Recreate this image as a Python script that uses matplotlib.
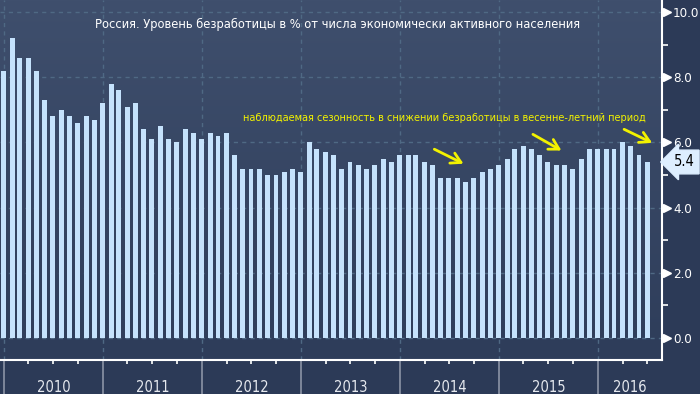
"""Russia unemployment rate, monthly bars (Bloomberg style)"""

import numpy as np
import pandas as pd
import matplotlib
matplotlib.use('Agg')
import matplotlib.pyplot as plt
import matplotlib.dates as mdates
from matplotlib.colors import LinearSegmentedColormap

# monthly unemployment, % (Dec 2009 .. Jun 2016)
months = pd.date_range('2009-12-31', periods=79, freq='ME')
unemployment = [
    8.2, 9.2, 8.6, 8.6, 8.2, 7.3, 6.8, 7.0, 6.8, 6.6, 6.8, 6.7,
    7.2, 7.8, 7.6, 7.1, 7.2, 6.4, 6.1, 6.5, 6.1, 6.0, 6.4, 6.3,
    6.1, 6.3, 6.2, 6.3, 5.6, 5.2, 5.2, 5.2, 5.0, 5.0, 5.1, 5.2,
    5.1, 6.0, 5.8, 5.7, 5.6, 5.2, 5.4, 5.3, 5.2, 5.3, 5.5, 5.4,
    5.6, 5.6, 5.6, 5.4, 5.3, 4.9, 4.9, 4.9, 4.8, 4.9, 5.1, 5.2,
    5.3, 5.5, 5.8, 5.9, 5.8, 5.6, 5.4, 5.3, 5.3, 5.2, 5.5, 5.8,
    5.8, 5.8, 5.8, 6.0, 5.9, 5.6, 5.4,
]
years = ['2010', '2011', '2012', '2013', '2014', '2015', '2016']
y_ticks = [0, 2, 4, 6, 8, 10]

title = 'Россия. Уровень безработицы в % от числа экономически активного населения'
note = 'наблюдаемая сезонность в снижении безработицы в весенне-летний период'
# arrows pointing at the seasonal dips: (tail date, tail y, head date, head y)
arrows = [
    ('2014-04-28', 5.83, '2014-09-01', 5.31),
    ('2015-04-27', 6.29, '2015-08-28', 5.71),
    ('2016-03-28', 6.44, '2016-07-28', 5.95),
]

BG = '#2c3a57'
GRID = '#4f6984'
BAR = '#c5e2fc'
YELLOW = '#f2f200'
LABEL_FONT = dict(family='DejaVu Sans', stretch='condensed')

fig = plt.figure(figsize=(7, 3.94), dpi=100, facecolor=BG)
ax = fig.add_axes([0, 34 / 394, 662 / 700, 360 / 394])
ax.set_facecolor('#34435f')

# background gradient inside the plot area
cmap = LinearSegmentedColormap.from_list('bg', ['#3f4f6d', '#2e3d5a'])
ax.imshow(np.linspace(0, 1, 256).reshape(-1, 1), cmap=cmap, aspect='auto',
          extent=[0, 1, 0, 1], transform=ax.transAxes, zorder=0)

ax.bar(months, unemployment, width=18, color=BAR, zorder=3)

ax.set_xlim(pd.Timestamp('2009-12-17'), pd.Timestamp('2016-08-24'))
ax.set_ylim(-0.675, 10.37)

# grid
for y in y_ticks:
    ax.axhline(y, color=GRID, lw=1, ls=(0, (3, 3)), zorder=1)
for yr in years:
    ax.plot([pd.Timestamp(yr + '-01-01')] * 2, [-0.675, 10.37], color=GRID,
            lw=1, ls=(0, (3, 3)), zorder=1)

# spines
for side in ['top', 'left']:
    ax.spines[side].set_visible(False)
for side in ['bottom', 'right']:
    ax.spines[side].set_color('white')
    ax.spines[side].set_linewidth(1.5)

# x axis: year separators and quarterly minor ticks
ax.xaxis.set_major_locator(mdates.YearLocator())
ax.xaxis.set_minor_locator(mdates.MonthLocator(bymonth=[4, 7, 10]))
ax.xaxis.set_major_formatter(plt.NullFormatter())
ax.tick_params(axis='x', which='major', length=25, width=1.2, color='#8b94a6',
               direction='out')
ax.tick_params(axis='x', which='minor', length=3, width=1.2, color='white',
               direction='out')
right_edge = pd.Timestamp('2016-08-24')
for yr in years:
    start = pd.Timestamp(yr + '-01-01')
    end = min(pd.Timestamp(str(int(yr) + 1) + '-01-01'), right_edge)
    mid = start + (end - start) / 2
    ax.text(mid, -0.075, yr, transform=ax.get_xaxis_transform(), ha='center',
            va='center', color='#e6e9ef', fontsize=10.5, **LABEL_FONT)

# y axis on the right
ax.yaxis.tick_right()
ax.set_yticks(y_ticks)
ax.set_yticklabels([f'{v:.1f}' for v in y_ticks])
ax.set_yticks([1, 3, 5, 7, 9], minor=True)
ax.tick_params(axis='y', which='major', length=0, pad=8, labelcolor='white',
               labelsize=9.5)
ax.tick_params(axis='y', which='minor', length=4, width=1.2, color='white',
               direction='out')
for lbl in ax.get_yticklabels():
    lbl.set_family('DejaVu Sans')
    lbl.set_stretch('condensed')
ax.plot([1.0075] * len(y_ticks), y_ticks, ls='none', marker='>', ms=6,
        color='white', transform=ax.get_yaxis_transform(), clip_on=False,
        zorder=5)

# last value box
ax.annotate(f'{unemployment[-1]:.1f}', xy=(1.0, unemployment[-1]),
            xycoords=ax.get_yaxis_transform(), xytext=(8.5, 0),
            textcoords='offset points', ha='left', va='center', fontsize=10.5,
            color='black',
            bbox=dict(boxstyle='larrow,pad=0.3', fc='#ddeeff', ec='#ddeeff'),
            annotation_clip=False, **LABEL_FONT)

# annotation arrows
for x0, y0, x1, y1 in arrows:
    ax.annotate('', xy=(pd.Timestamp(x1), y1), xytext=(pd.Timestamp(x0), y0),
                arrowprops=dict(arrowstyle='->,head_length=0.7,head_width=0.4',
                                color=YELLOW, lw=2), zorder=6)

fig.text(338 / 700, 1 - 24 / 394, title, ha='center', va='center',
         color='white', fontsize=8.3)
fig.text(444 / 700, 1 - 118 / 394, note, ha='center', va='center',
         color=YELLOW, fontsize=7)

fig.savefig('out.png', dpi=100, facecolor=BG)
